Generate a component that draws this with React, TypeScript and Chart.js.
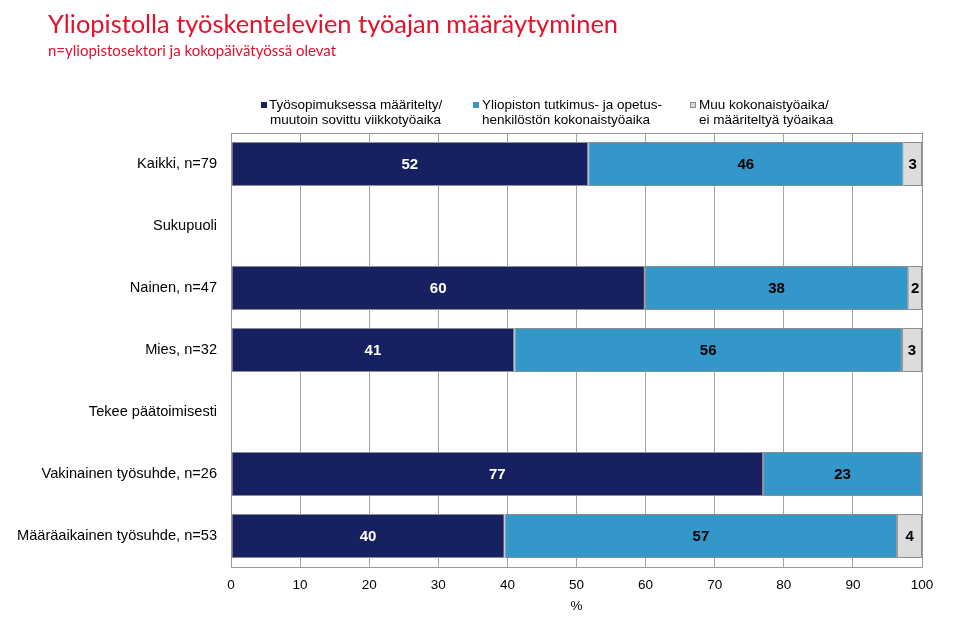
import React, { useEffect, useRef } from "react";
import { Chart, registerables } from "chart.js";

Chart.register(...registerables);

const TITLE = "Yliopistolla työskentelevien työajan määräytyminen";
const SUBTITLE = "n=yliopistosektori ja kokopäivätyössä olevat";

const categories = [
  "Kaikki, n=79",
  "Sukupuoli",
  "Nainen, n=47",
  "Mies, n=32",
  "Tekee päätoimisesti",
  "Vakinainen työsuhde, n=26",
  "Määräaikainen työsuhde, n=53",
];

const seriesNames = [
  ["Työsopimuksessa määritelty/", "muutoin sovittu viikkotyöaika"],
  ["Yliopiston tutkimus- ja opetus-", "henkilöstön kokonaistyöaika"],
  ["Muu kokonaistyöaika/", "ei määriteltyä työaikaa"],
];

const definedWeekly = [51.7, null, 59.9, 41.0, null, 77.0, 39.6];
const totalWorkTime = [45.6, null, 38.1, 56.1, null, 23.0, 56.8];
const otherTime = [2.7, null, 2.0, 2.9, null, null, 3.6];

const xMin = 0;
const xMax = 100;
const xStep = 10;
const xTitle = "%";

const colors = ["#172060", "#3397C9", "#DCDCDC"];
const labelColors = ["#FFFFFF", "#000000", "#000000"];

const FONT = "'Liberation Sans', Arial, sans-serif";
const TITLE_FONT = "Lato, 'Open Sans', sans-serif";

const decorPlugin = {
  id: "decor",
  beforeDatasetsDraw(chart: any) {
    const { ctx, chartArea } = chart;
    ctx.save();
    ctx.strokeStyle = "#9a9a9a";
    ctx.lineWidth = 1;
    ctx.strokeRect(
      Math.round(chartArea.left) + 0.5,
      Math.round(chartArea.top) + 0.5,
      Math.round(chartArea.right - chartArea.left),
      Math.round(chartArea.bottom - chartArea.top)
    );
    ctx.restore();
  },
  afterDatasetsDraw(chart: any) {
    const { ctx } = chart;
    ctx.save();
    ctx.font = `bold 15px ${FONT}`;
    ctx.textAlign = "center";
    ctx.textBaseline = "middle";
    chart.data.datasets.forEach((ds: any, i: number) => {
      const meta = chart.getDatasetMeta(i);
      meta.data.forEach((el: any, j: number) => {
        const v = ds.data[j];
        if (v == null || v <= 0) return;
        const p = el.getProps(["x", "y", "base"], true);
        ctx.fillStyle = labelColors[i];
        ctx.fillText(String(Math.round(v)), (p.x + p.base) / 2, p.y + 1);
      });
    });
    ctx.restore();
  },
  afterDraw(chart: any) {
    const { ctx } = chart;
    ctx.save();
    // Title
    ctx.fillStyle = "#E4102C";
    ctx.textAlign = "left";
    ctx.textBaseline = "alphabetic";
    ctx.font = `25.5px ${TITLE_FONT}`;
    ctx.fillText(TITLE, 48, 33, 570);
    ctx.font = `15px ${TITLE_FONT}`;
    ctx.fillText(SUBTITLE, 48, 56, 292);
    // Legend
    const items = [
      { sq: 261, tx: 269 },
      { sq: 473, tx: 482 },
      { sq: 690, tx: 699 },
    ];
    ctx.font = `13.5px ${FONT}`;
    ctx.textBaseline = "middle";
    items.forEach((it, i) => {
      ctx.fillStyle = colors[i];
      ctx.fillRect(it.sq, 102, 6, 6);
      if (i === 2) {
        ctx.strokeStyle = "#8c8c8c";
        ctx.lineWidth = 1;
        ctx.strokeRect(it.sq + 0.5, 102.5, 5, 5);
      }
      ctx.fillStyle = "#000";
      ctx.fillText(seriesNames[i][0], it.tx, 105);
      ctx.fillText(seriesNames[i][1], it.tx + (i === 0 ? 1 : 0), 120);
    });
    ctx.restore();
  },
};

export default function App() {
  const ref = useRef<HTMLCanvasElement | null>(null);

  useEffect(() => {
    if (!ref.current) return;
    const datasets = [definedWeekly, totalWorkTime, otherTime].map((d, i) => ({
      label: seriesNames[i].join(" "),
      data: d,
      backgroundColor: colors[i],
      borderColor: "#8c8c8c",
      borderWidth: 1,
      borderSkipped: false,
      barPercentage: 0.71,
      categoryPercentage: 1,
    }));
    const chart = new Chart(ref.current, {
      type: "bar",
      data: { labels: categories, datasets },
      options: {
        indexAxis: "y",
        responsive: false,
        animation: false,
        devicePixelRatio: 1,
        layout: { padding: { top: 133, right: 38, left: 0, bottom: 0 } },
        plugins: {
          legend: { display: false },
          title: { display: false },
          tooltip: { enabled: false },
        },
        scales: {
          x: {
            type: "linear",
            stacked: true,
            min: xMin,
            max: xMax,
            ticks: {
              stepSize: xStep,
              color: "#000",
              font: { family: FONT, size: 13.5 },
              padding: 10,
            },
            grid: { color: "#a6a6a6", drawTicks: false, lineWidth: 1 },
            border: { display: false },
            title: {
              display: true,
              text: xTitle,
              color: "#000",
              font: { family: FONT, size: 13.5 },
              padding: { top: 6, bottom: 10 },
            },
            afterFit(scale: any) {
              scale.height = 57;
            },
          },
          y: {
            type: "category",
            stacked: true,
            ticks: {
              color: "#000",
              font: { family: FONT, size: 14.6 },
              padding: 6,
            },
            grid: { display: false },
            border: { display: false },
            afterFit(scale: any) {
              scale.width = 231;
            },
          },
        },
      },
      plugins: [decorPlugin],
    } as any);
    return () => chart.destroy();
  }, []);

  return (
    <div style={{ position: "absolute", left: 0, top: 0, width: 960, height: 624, background: "#fff" }}>
      <canvas ref={ref} width={960} height={624} style={{ display: "block" }} />
    </div>
  );
}
